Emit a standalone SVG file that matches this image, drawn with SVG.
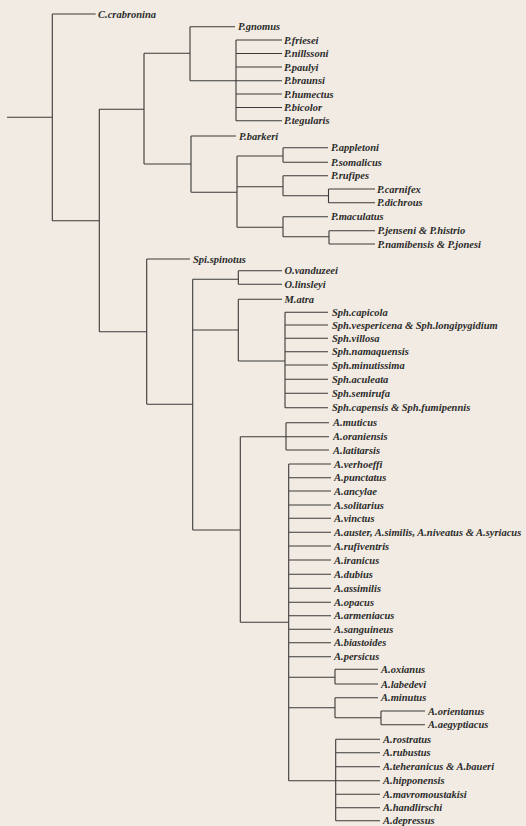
<svg xmlns="http://www.w3.org/2000/svg" width="526" height="826" viewBox="0 0 526 826">
<style>
.t{font-family:"Liberation Serif","Times New Roman",serif;font-style:italic;font-weight:bold;font-size:10.5px;fill:#2b2b2b}
#connectors path{stroke:#3a3a3a;stroke-width:1.1;fill:none}
</style>
<rect width="526" height="826" fill="#f2ebe3"/>
<g id="connectors">
<path d="M7,117.3H52.3M52.3,14V220.7M52.3,14H95.7M52.3,220.7H99.3"/>
<path d="M99.3,109.3V331.7M99.3,109.3H144M99.3,331.7H146.7"/>
<path d="M144,53.3V164M144,53.3H190M144,164H191"/>
<path d="M190,26.7V80.7M190,26.7H235M190,80.7H236"/>
<path d="M236,40V120.7M236,40H282M236,53.5H282M236,67H282M236,80.7H282M236,94H282M236,107.5H282M236,120.7H282"/>
<path d="M191,136V192.3M191,136H236M191,192.3H237"/>
<path d="M237,156V227.3M237,156H283M237,186.7H283M237,227.3H283"/>
<path d="M283,147.7V162.3M283,147.7H328M283,162.3H328"/>
<path d="M283,175.7V195.7M283,175.7H328M283,195.7H328.5"/>
<path d="M328.5,189V202.7M328.5,189H375M328.5,202.7H375"/>
<path d="M283,216.7V236.7M283,216.7H328M283,236.7H329"/>
<path d="M329,230.7V244M329,230.7H375M329,244H375"/>
<path d="M146.7,259V404.3M146.7,259H190M146.7,404.3H192.7"/>
<path d="M192.7,279.3V530M192.7,279.3H238.3M192.7,330H238.3M192.7,530H240.3"/>
<path d="M238.3,270.7V284.3M238.3,270.7H282M238.3,284.3H282"/>
<path d="M238.3,299.3V361M238.3,299.3H282M238.3,361H285"/>
<path d="M285,312.3V407.7M285,312.3H328M285,325H328M285,338.3H328M285,351.7H328M285,365H328M285,379.3H328M285,393.3H328M285,407.7H328"/>
<path d="M240.3,436.7V622.3M240.3,436.7H286M240.3,622.3H288.7"/>
<path d="M286,422.7V450M286,422.7H329M286,436.7H329M286,450H329"/>
<path d="M288.7,464V780.7M288.7,464H331M288.7,477.7H331M288.7,491H331M288.7,505H331M288.7,518.3H331M288.7,532.3H331M288.7,546H331M288.7,560H331M288.7,574.3H331M288.7,588.3H331M288.7,602.3H331M288.7,615.7H331M288.7,629.3H331M288.7,642.7H331M288.7,656.7H331M288.7,677.3H335M288.7,707.7H335M288.7,780.7H335.7"/>
<path d="M335,669.3V684M335,669.3H378M335,684H378"/>
<path d="M335,697.7V717.7M335,697.7H378M335,717.7H381"/>
<path d="M381,711V724.7M381,711H425M381,724.7H425"/>
<path d="M335.7,739.3V820.7M335.7,739.3H380M335.7,752.7H380M335.7,766.7H380M335.7,780.7H380M335.7,794.3H380M335.7,807.7H380M335.7,820.7H380"/>
</g>
<g id="C_crabronina"><text class="t" x="98" y="17.5">C.crabronina</text></g>
<g id="P_gnomus"><text class="t" x="238" y="30.2">P.gnomus</text></g>
<g id="P_friesei"><text class="t" x="284" y="43.5">P.friesei</text></g>
<g id="P_nillssoni"><text class="t" x="284" y="57">P.nillssoni</text></g>
<g id="P_paulyi"><text class="t" x="284" y="70.5">P.paulyi</text></g>
<g id="P_braunsi"><text class="t" x="284" y="84.2">P.braunsi</text></g>
<g id="P_humectus"><text class="t" x="284" y="97.5">P.humectus</text></g>
<g id="P_bicolor"><text class="t" x="284" y="111">P.bicolor</text></g>
<g id="P_tegularis"><text class="t" x="284" y="124.2">P.tegularis</text></g>
<g id="P_barkeri"><text class="t" x="239" y="139.5">P.barkeri</text></g>
<g id="P_appletoni"><text class="t" x="331" y="151.2">P.appletoni</text></g>
<g id="P_somalicus"><text class="t" x="331" y="165.8">P.somalicus</text></g>
<g id="P_rufipes"><text class="t" x="331" y="179.2">P.rufipes</text></g>
<g id="P_carnifex"><text class="t" x="377" y="192.5">P.carnifex</text></g>
<g id="P_dichrous"><text class="t" x="377" y="206.2">P.dichrous</text></g>
<g id="P_maculatus"><text class="t" x="331" y="220.2">P.maculatus</text></g>
<g id="P_jenseni_histrio"><text class="t" x="377.5" y="234.2">P.jenseni &amp; P.histrio</text></g>
<g id="P_namibensis_jonesi"><text class="t" x="377.5" y="247.5">P.namibensis &amp; P.jonesi</text></g>
<g id="Spi_spinotus"><text class="t" x="193" y="262.5">Spi.spinotus</text></g>
<g id="O_vanduzeei"><text class="t" x="284.5" y="274.2">O.vanduzeei</text></g>
<g id="O_linsleyi"><text class="t" x="284.5" y="287.8">O.linsleyi</text></g>
<g id="M_atra"><text class="t" x="284.5" y="302.8">M.atra</text></g>
<g id="Sph_capicola"><text class="t" x="332" y="315.8">Sph.capicola</text></g>
<g id="Sph_vespericena"><text class="t" x="332" y="328.5">Sph.vespericena &amp; Sph.longipygidium</text></g>
<g id="Sph_villosa"><text class="t" x="332" y="341.8">Sph.villosa</text></g>
<g id="Sph_namaquensis"><text class="t" x="332" y="355.2">Sph.namaquensis</text></g>
<g id="Sph_minutissima"><text class="t" x="332" y="368.5">Sph.minutissima</text></g>
<g id="Sph_aculeata"><text class="t" x="332" y="382.8">Sph.aculeata</text></g>
<g id="Sph_semirufa"><text class="t" x="332" y="396.8">Sph.semirufa</text></g>
<g id="Sph_capensis"><text class="t" x="332" y="411.2">Sph.capensis &amp; Sph.fumipennis</text></g>
<g id="A_muticus"><text class="t" x="333" y="426.2">A.muticus</text></g>
<g id="A_oraniensis"><text class="t" x="333" y="440.2">A.oraniensis</text></g>
<g id="A_latitarsis"><text class="t" x="333" y="453.5">A.latitarsis</text></g>
<g id="A_verhoeffi"><text class="t" x="334" y="467.5">A.verhoeffi</text></g>
<g id="A_punctatus"><text class="t" x="334" y="481.2">A.punctatus</text></g>
<g id="A_ancylae"><text class="t" x="334" y="494.5">A.ancylae</text></g>
<g id="A_solitarius"><text class="t" x="334" y="508.5">A.solitarius</text></g>
<g id="A_vinctus"><text class="t" x="334" y="521.8">A.vinctus</text></g>
<g id="A_auster"><text class="t" x="334" y="535.8">A.auster, A.similis, A.niveatus &amp; A.syriacus</text></g>
<g id="A_rufiventris"><text class="t" x="334" y="549.5">A.rufiventris</text></g>
<g id="A_iranicus"><text class="t" x="334" y="563.5">A.iranicus</text></g>
<g id="A_dubius"><text class="t" x="334" y="577.8">A.dubius</text></g>
<g id="A_assimilis"><text class="t" x="334" y="591.8">A.assimilis</text></g>
<g id="A_opacus"><text class="t" x="334" y="605.8">A.opacus</text></g>
<g id="A_armeniacus"><text class="t" x="334" y="619.2">A.armeniacus</text></g>
<g id="A_sanguineus"><text class="t" x="334" y="632.8">A.sanguineus</text></g>
<g id="A_biastoides"><text class="t" x="334" y="646.2">A.biastoides</text></g>
<g id="A_persicus"><text class="t" x="334" y="660.2">A.persicus</text></g>
<g id="A_oxianus"><text class="t" x="381" y="672.8">A.oxianus</text></g>
<g id="A_labedevi"><text class="t" x="381" y="687.5">A.labedevi</text></g>
<g id="A_minutus"><text class="t" x="381" y="701.2">A.minutus</text></g>
<g id="A_orientanus"><text class="t" x="428" y="714.5">A.orientanus</text></g>
<g id="A_aegyptiacus"><text class="t" x="428" y="728.2">A.aegyptiacus</text></g>
<g id="A_rostratus"><text class="t" x="383" y="742.8">A.rostratus</text></g>
<g id="A_rubustus"><text class="t" x="383" y="756.2">A.rubustus</text></g>
<g id="A_teheranicus_baueri"><text class="t" x="383" y="770.2">A.teheranicus &amp; A.baueri</text></g>
<g id="A_hipponensis"><text class="t" x="383" y="784.2">A.hipponensis</text></g>
<g id="A_mavromoustakisi"><text class="t" x="383" y="797.8">A.mavromoustakisi</text></g>
<g id="A_handlirschi"><text class="t" x="383" y="811.2">A.handlirschi</text></g>
<g id="A_depressus"><text class="t" x="383" y="824.2">A.depressus</text></g>
</svg>
